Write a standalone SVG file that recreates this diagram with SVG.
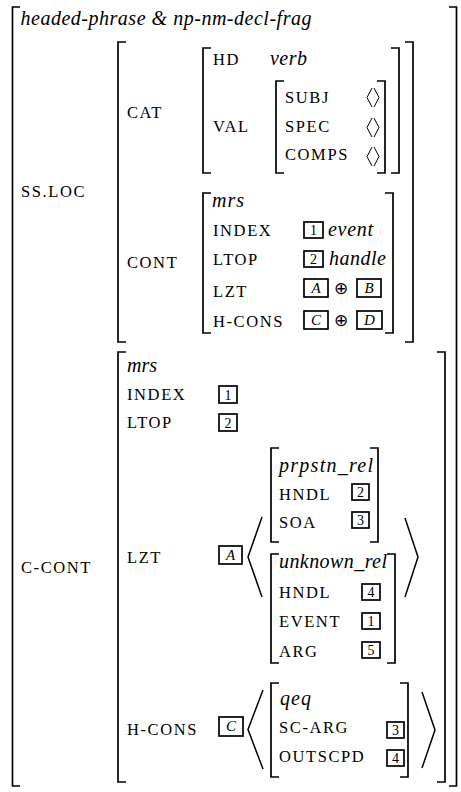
<svg xmlns="http://www.w3.org/2000/svg" width="461" height="792" viewBox="0 0 461 792">
<style>
.br{fill:none;stroke:#000;stroke-width:1.7}
.ang{fill:none;stroke:#000;stroke-width:1.5}
.sa{fill:none;stroke:#000;stroke-width:1}
.box{fill:none;stroke:#000;stroke-width:1.7}
.lb{font-family:'Liberation Serif','Times New Roman',serif;font-size:16.5px;letter-spacing:1.6px;fill:#000}
.it{font-family:'Liberation Serif','Times New Roman',serif;font-style:italic;font-size:20px;fill:#000}
.tn{font-family:'Liberation Serif','Times New Roman',serif;font-size:14px;text-anchor:middle;fill:#000}
.tl{font-family:'Liberation Serif','Times New Roman',serif;font-style:italic;font-size:15px;text-anchor:middle;fill:#000}
.op{font-family:'DejaVu Sans',sans-serif;font-size:17px;text-anchor:middle;fill:#000}
</style>
<rect width="461" height="792" fill="#fff"/>

<g id="outer">
<path class="br" d="M20,7H12.5V786H20"/>
<path class="br" d="M449,7H456.5V786H449"/>
<text class="it" x="20.5" y="25" textLength="291">headed-phrase &amp; np-nm-decl-frag</text>
<text class="lb" x="21" y="197">SS.LOC</text>
<text class="lb" x="21" y="573">C-CONT</text>
</g>

<g id="ssloc">
<path class="br" d="M126,42H118V342H126"/>
<path class="br" d="M405,42H413V342H405"/>
<text class="lb" x="127" y="118">CAT</text>
<text class="lb" x="127" y="268">CONT</text>
</g>

<g id="cat">
<path class="br" d="M211,48H203V173H211"/>
<path class="br" d="M391,48H399V173H391"/>
<text class="lb" x="213" y="65">HD</text>
<text class="it" x="270" y="65" textLength="37">verb</text>
<text class="lb" x="213" y="132">VAL</text>
</g>

<g id="val">
<path class="br" d="M284,81H276V173H284"/>
<path class="br" d="M377,81H385V173H377"/>
<text class="lb" x="285" y="103">SUBJ</text>
<text class="lb" x="285" y="132">SPEC</text>
<text class="lb" x="285" y="160">COMPS</text>
<path class="sa" d="M372,88L367,97.5L372,107M374,88L379,97.5L374,107"/>
<path class="sa" d="M372,118L367,127.5L372,137M374,118L379,127.5L374,137"/>
<path class="sa" d="M372,147L367,156.5L372,166M374,147L379,156.5L374,166"/>
</g>

<g id="cont">
<path class="br" d="M211,193H203V333H211"/>
<path class="br" d="M385,193H393V333H385"/>
<text class="it" x="212" y="207" textLength="32">mrs</text>
<text class="lb" x="213" y="236">INDEX</text>
<text class="lb" x="213" y="265">LTOP</text>
<text class="lb" x="213" y="297">LZT</text>
<text class="lb" x="213" y="327">H-CONS</text>
<rect class="box" x="304" y="222" width="19" height="16"/>
<text class="tn" x="313.5" y="235">1</text>
<text class="it" x="328" y="236" textLength="45">event</text>
<rect class="box" x="304" y="251" width="19" height="16"/>
<text class="tn" x="313.5" y="264">2</text>
<text class="it" x="329" y="265" textLength="57">handle</text>
<rect class="box" x="304" y="279" width="24" height="18"/>
<text class="tl" x="316" y="293">A</text>
<text class="op" x="341" y="294">⊕</text>
<rect class="box" x="357" y="279" width="24" height="18"/>
<text class="tl" x="369" y="293">B</text>
<rect class="box" x="304" y="311" width="24" height="18"/>
<text class="tl" x="316" y="325">C</text>
<text class="op" x="341" y="326">⊕</text>
<rect class="box" x="357" y="311" width="25" height="18"/>
<text class="tl" x="369.5" y="325">D</text>
</g>

<g id="ccont">
<path class="br" d="M126,352H118V782H126"/>
<path class="br" d="M437,352H445V782H437"/>
<text class="it" x="127" y="372" textLength="30">mrs</text>
<text class="lb" x="127" y="400">INDEX</text>
<text class="lb" x="127" y="428">LTOP</text>
<text class="lb" x="127" y="563">LZT</text>
<text class="lb" x="127" y="735">H-CONS</text>
<rect class="box" x="219" y="386" width="18" height="17"/>
<text class="tn" x="228" y="400">1</text>
<rect class="box" x="219" y="414" width="18" height="17"/>
<text class="tn" x="228" y="428">2</text>
<rect class="box" x="219" y="546" width="23" height="18"/>
<text class="tl" x="230.5" y="560">A</text>
<path class="ang" d="M262,517L248,557L262,597"/>
<path class="ang" d="M405,518L418,557L405,597"/>
<rect class="box" x="219" y="717" width="24" height="19"/>
<text class="tl" x="231" y="731">C</text>
<path class="ang" d="M263,690L248,729.5L263,769"/>
<path class="ang" d="M422,692L435,730L422,768"/>
</g>

<g id="prpstn">
<path class="br" d="M279,448H271V542H279"/>
<path class="br" d="M370,448H378V542H370"/>
<text class="it" x="279" y="472" textLength="94">prpstn_rel</text>
<text class="lb" x="279" y="500">HNDL</text>
<text class="lb" x="279" y="528">SOA</text>
<rect class="box" x="352" y="484" width="17" height="16"/>
<text class="tn" x="360.5" y="497">2</text>
<rect class="box" x="352" y="512" width="17" height="16"/>
<text class="tn" x="360.5" y="525">3</text>
</g>

<g id="unknown">
<path class="br" d="M279,554H271V663H279"/>
<path class="br" d="M387,554H395V663H387"/>
<text class="it" x="279" y="568" textLength="108">unknown_rel</text>
<text class="lb" x="279" y="598">HNDL</text>
<text class="lb" x="279" y="627">EVENT</text>
<text class="lb" x="279" y="657">ARG</text>
<rect class="box" x="362" y="584" width="18" height="16"/>
<text class="tn" x="371" y="597">4</text>
<rect class="box" x="362" y="613" width="18" height="16"/>
<text class="tn" x="371" y="626">1</text>
<rect class="box" x="362" y="642" width="18" height="16"/>
<text class="tn" x="371" y="655">5</text>
</g>

<g id="qeq">
<path class="br" d="M279,683H271V777H279"/>
<path class="br" d="M400,683H408V777H400"/>
<text class="it" x="280" y="705" textLength="31">qeq</text>
<text class="lb" x="279" y="733">SC-ARG</text>
<text class="lb" x="279" y="762">OUTSCPD</text>
<rect class="box" x="387" y="722" width="17" height="16"/>
<text class="tn" x="395.5" y="735">3</text>
<rect class="box" x="387" y="750" width="17" height="16"/>
<text class="tn" x="395.5" y="763">4</text>
</g>
</svg>
